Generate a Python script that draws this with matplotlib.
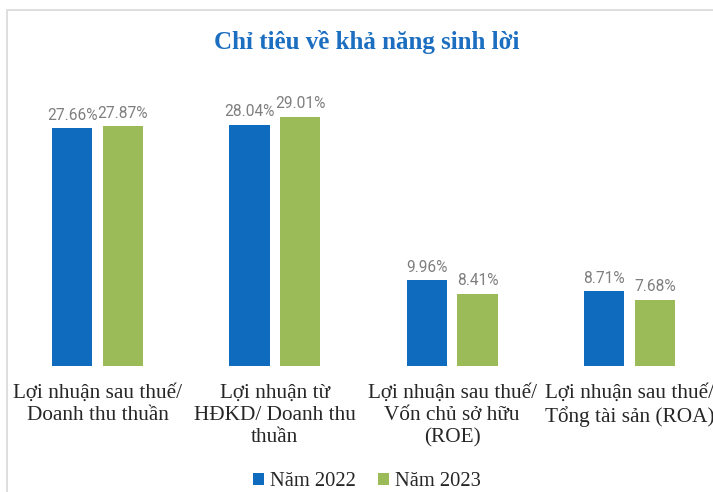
import matplotlib
matplotlib.use("Agg")
import matplotlib.pyplot as plt
import numpy as np
from matplotlib.patches import Rectangle

# Dữ liệu
categories = ["Lợi nhuận sau thuế/\nDoanh thu thuần",
              "Lợi nhuận từ\nHĐKD/ Doanh thu\nthuần",
              "Lợi nhuận sau thuế/\nVốn chủ sở hữu\n(ROE)",
              "Lợi nhuận sau thuế/\nTổng tài sản (ROA)"]
nam_2022 = [27.66, 28.04, 9.96, 8.71]
nam_2023 = [27.87, 29.01, 8.41, 7.68]
series_names = ["Năm 2022", "Năm 2023"]

c_blue = "#0E6BBE"
c_green = "#9BBB59"

W, H = 713, 492
fig = plt.figure(figsize=(W / 100, H / 100), dpi=100)

# khung viền nhạt
fig.patches.append(Rectangle((7 / W, -0.1), 1.2, (H - 10) / H + 0.1,
                             transform=fig.transFigure, fill=False,
                             edgecolor="#d9d9d9", lw=1.2))

ax = fig.add_axes([9 / W, 126 / H, 709 / W, 258 / H])
x = np.arange(len(categories))
w = 0.226
off = 0.143
b1 = ax.bar(x - off, nam_2022, w, color=c_blue, label=series_names[0])
b2 = ax.bar(x + off, nam_2023, w, color=c_green, label=series_names[1])

for bars, vals in [(b1, nam_2022), (b2, nam_2023)]:
    for b, v in zip(bars, vals):
        ax.annotate(f"{v:.2f}%", (b.get_x() + b.get_width() / 2, v),
                    xytext=(0, 4), textcoords="offset points",
                    ha="center", va="bottom", fontsize=11.2,
                    family="Roboto", color="#7f7f7f")

ax.set_xlim(-0.5, 3.5)
ax.set_ylim(0, 30)
ax.set_xticks(x)
ax.set_xticklabels(categories, family="Liberation Serif", fontsize=15.3,
                   color="#262626", linespacing=1.22,
                   multialignment="center")
ax.tick_params(axis="x", length=0, pad=13)
ax.set_yticks([])
for s in ax.spines.values():
    s.set_visible(False)

fig.text(367 / W, 1 - 42 / H, "Chỉ tiêu về khả năng sinh lời",
         ha="center", va="center", fontsize=18, fontweight="bold",
         family="Liberation Serif", color="#1B6EC0")

fig.legend(handles=[b1, b2], labels=series_names, loc="center",
           bbox_to_anchor=(367 / W, 1 - 482 / H), ncol=2, frameon=False,
           prop={"family": "Liberation Serif", "size": 14.8},
           handlelength=0.5, handleheight=0.5, handletextpad=0.3,
           columnspacing=1.1, labelcolor="#262626")

fig.savefig("out.png", dpi=100)
